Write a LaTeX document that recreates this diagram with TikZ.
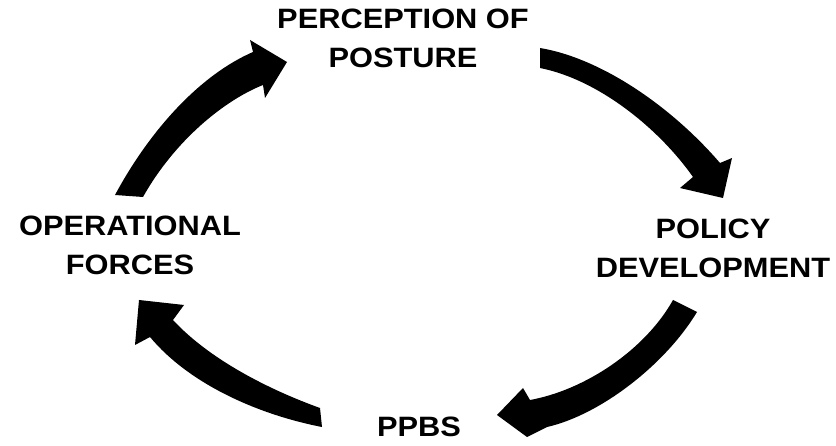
\documentclass[tikz,border=0pt]{standalone}
\usepackage{fontspec}
\newfontfamily\lblfont{Liberation Sans}[FakeStretch=1.1]
\begin{document}
\begin{tikzpicture}[x=1pt,y=-1pt,
  stage/.style={font={\lblfont\bfseries\fontsize{28}{39}\selectfont},
    align=center, anchor=base, inner sep=0pt},
  blockarrow/.style={fill=black, draw=none}]
\useasboundingbox (0,0) rectangle (836,446);

% stage labels (base anchor sits on the last line)
\node[stage] (posture) at (403,68) {PERCEPTION OF\\POSTURE};
\node[stage] (policy)  at (713,278) {POLICY\\DEVELOPMENT};
\node[stage] (ppbs)    at (419,437) {PPBS};
\node[stage] (forces)  at (130,275) {OPERATIONAL\\FORCES};

% operational forces -> perception of posture
\fill[blockarrow] (115,195) .. controls (150,130) and (200,75) .. (253,52)
  -- (250,40) -- (287,62) -- (265,98) -- (263,85)
  .. controls (225,100) and (175,140) .. (143,197) -- cycle;

% perception of posture -> policy development
\fill[blockarrow] (540,48) .. controls (600,58) and (670,105) .. (720,163)
  -- (732,158) -- (723,198) -- (680,188) -- (693,177)
  .. controls (660,130) and (600,80) .. (540,68) -- cycle;

% policy development -> PPBS
\fill[blockarrow] (697,312) .. controls (665,365) and (600,415) .. (547,427)
  -- (527,437) -- (497,415) -- (523,388) -- (530,400)
  .. controls (585,390) and (645,350) .. (673,300) -- cycle;

% PPBS -> operational forces
\fill[blockarrow] (322,427) .. controls (260,415) and (190,385) .. (150,337)
  -- (135,345) -- (139,300) -- (184,305) -- (173,320)
  .. controls (210,360) and (270,390) .. (320,408) -- cycle;
\end{tikzpicture}
\end{document}
